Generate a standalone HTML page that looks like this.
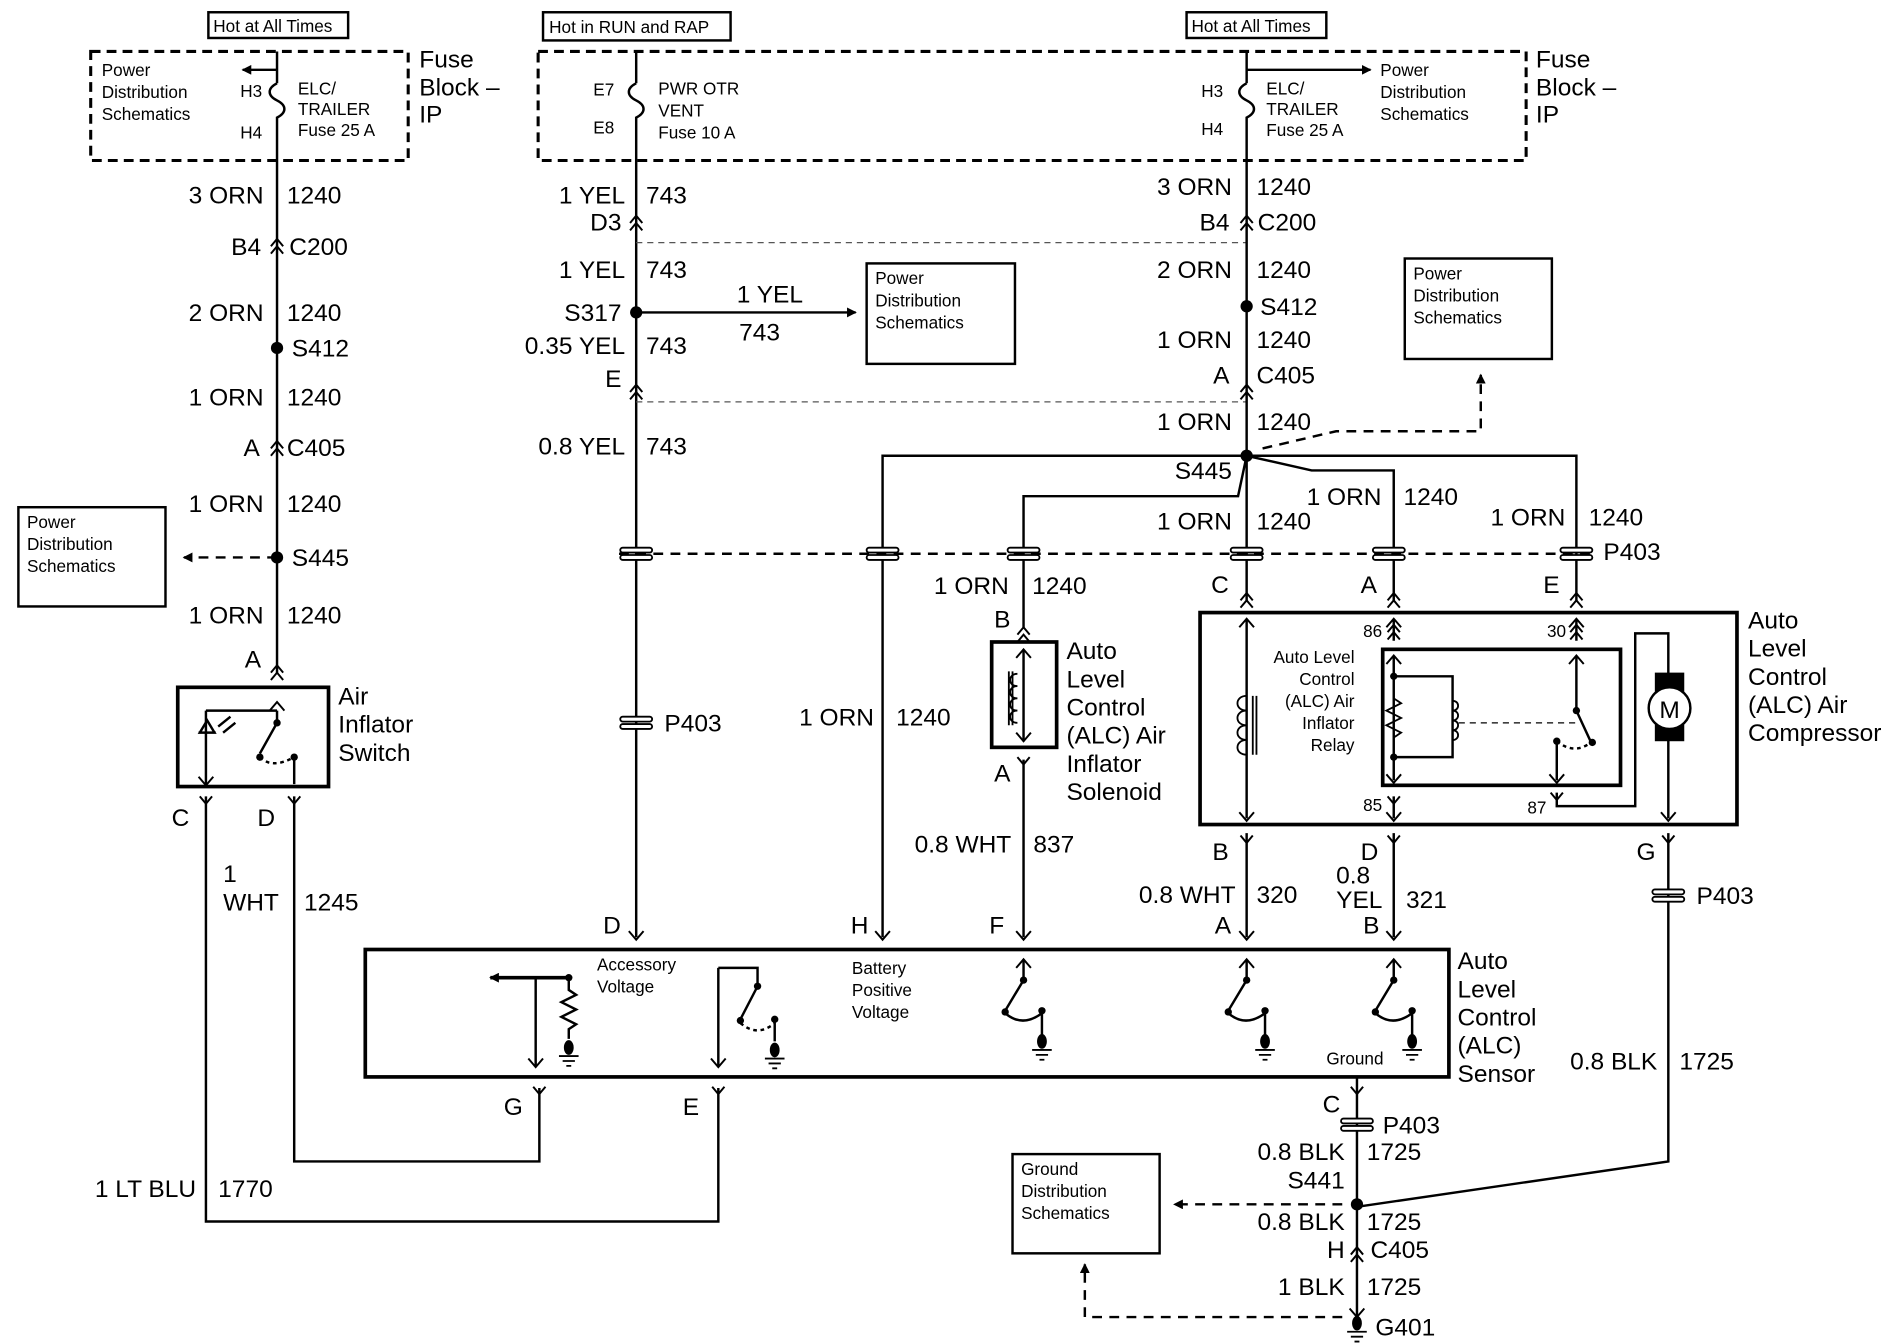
<!DOCTYPE html>
<html><head><meta charset="utf-8"><style>
html,body{margin:0;padding:0;background:#fff}
svg{display:block}
text{font-family:"Liberation Sans",sans-serif;fill:#000}
.b{font-size:20px}.s{font-size:14px}
.e{text-anchor:end}
</style></head><body>
<svg width="1900" height="1344" viewBox="0 0 1550 1097" preserveAspectRatio="none" xmlns="http://www.w3.org/2000/svg">
<defs>
<marker id="ah" markerWidth="8" markerHeight="8" refX="7" refY="4" orient="auto" markerUnits="userSpaceOnUse"><path d="M0,0 L8,4 L0,8 z" fill="#000"/></marker>
<g id="cn"><path d="M-5,6 L0,0 L5,6 M-5,12 L0,6 L5,12" fill="none" stroke="#000" stroke-width="1.6"/></g>
<g id="cl"><rect x="-13" y="-5" width="26" height="4" rx="2" fill="#fff" stroke="#000" stroke-width="1.5"/><rect x="-13" y="1" width="26" height="4" rx="2" fill="#fff" stroke="#000" stroke-width="1.5"/></g>
<g id="gnd"><ellipse cx="0" cy="0" rx="4" ry="6" fill="#000"/><path d="M-8,7 H8 M-5,11 H5 M-2,15 H2" stroke="#000" stroke-width="1.5"/></g>
</defs>
<g fill="none" stroke="#000" stroke-width="2">
<rect x="170" y="10" width="114" height="21"/>
<rect x="443" y="10" width="153" height="23"/>
<rect x="968" y="10" width="114" height="21"/>
<rect x="74" y="42" width="259" height="89" stroke-dasharray="8,5" stroke-width="2.5"/>
<rect x="439" y="42" width="806" height="89" stroke-dasharray="8,5" stroke-width="2.5"/>
<rect x="15" y="414" width="120" height="81"/>
<rect x="707" y="215" width="121" height="82"/>
<rect x="1146" y="211" width="120" height="82"/>
<rect x="826" y="942" width="120" height="81"/>
<rect x="145" y="561" width="123" height="81" stroke-width="3"/>
<rect x="809" y="524" width="53" height="86" stroke-width="3"/>
<rect x="979" y="500" width="438" height="173" stroke-width="3"/>
<rect x="1128" y="530" width="194" height="111" stroke-width="3"/>
<rect x="298" y="775" width="884" height="104" stroke-width="3"/>
</g>
<g stroke="#000" stroke-width="2" fill="none">
<path d="M226,42 V68 M226,100 V550"/>
<path d="M226,68 c-8,4 -8,10 0,14 c8,4 8,10 0,14 V100"/>
<path d="M226,57 H198" marker-end="url(#ah)"/>
<path d="M226,455 H150" stroke-dasharray="8,6" marker-end="url(#ah)"/>
<path d="M168,650 V997 H586 V888"/>
<path d="M240,650 V948 H440 V888"/>
<path d="M226,580 V590 L212,615 M168,580 H226 M168,580 V640 M240,618 V640" />
<path d="M212,618 q10,10 28,0" stroke-dasharray="3,3"/>
<path d="M162,598 H176 M169,588 L163,598 L175,598 z"/>
<path d="M178,593 l10,-8 M182,598 l10,-8"/>
<path d="M519,42 V68 M519,100 V765"/>
<path d="M519,68 c-8,4 -8,10 0,14 c8,4 8,10 0,14 V100"/>
<path d="M519,255 H698" marker-end="url(#ah)"/>
<path d="M519,198 H1017 M519,328 H1017" stroke-width="1" stroke-dasharray="5,4" stroke="#555"/>
<path d="M505,452 H1300" stroke-dasharray="8,6"/>
<path d="M1017,42 V68 M1017,100 V490"/>
<path d="M1017,68 c-8,4 -8,10 0,14 c8,4 8,10 0,14 V100"/>
<path d="M1017,57 H1118" marker-end="url(#ah)"/>
<path d="M1030,366 L1090,352 H1208 V306" stroke-dasharray="8,6" marker-end="url(#ah)"/>
<path d="M1017,372 H720 V765"/>
<path d="M1017,372 L1010,405 H835 V512"/>
<path d="M1017,372 L1070,384 H1137 V490"/>
<path d="M1017,372 H1286 V490"/>
<path d="M835,620 V765"/>
<path d="M1017,505 V668"/>
<path d="M1017,568 c-10,0 -10,12 0,12 c-10,0 -10,12 0,12 c-10,0 -10,12 0,12 c-10,0 -10,12 0,12 M1022,568 V616 M1025,568 V616" stroke-width="1.5"/>
<path d="M1137,505 V523 M1137,535 V637 M1137,552 H1185 V618 H1137"/>
<path d="M1137,570 l6,4 l-12,6 l12,6 l-12,6 l12,6 l-6,4" stroke-width="1.5"/>
<path d="M1185,572 c6,0 6,8 0,8 c6,0 6,8 0,8 c6,0 6,8 0,8 c6,0 6,8 0,8" stroke-width="1.5"/>
<path d="M1190,590 H1285" stroke-dasharray="5,4" stroke-width="1"/>
<path d="M1286,505 V523 M1286,535 V580 L1298,606 M1270,605 V637"/>
<path d="M1270,605 q15,12 29,0" stroke-dasharray="3,3"/>
<path d="M1137,650 V668 M1270,647 V658 H1334 V517 H1361 V668"/>
<path d="M835,530 V605"/>
<path d="M830,550 c-8,0 -8,10 0,10 c-8,0 -8,10 0,10 c-8,0 -8,10 0,10 c-8,0 -8,10 0,10 M826,548 V592 M823,548 V592" stroke-width="1.5"/>
<path d="M1017,680 V765 M1137,680 V765 M1361,680 V948 L1107,985"/>
<path d="M1107,879 V1075"/>
<path d="M1095,983 H958" stroke-dasharray="8,6" marker-end="url(#ah)"/>
<path d="M1095,1075 H885 V1032" stroke-dasharray="8,6" marker-end="url(#ah)"/>
<path d="M464,798 H400" stroke-width="3" marker-end="url(#ah)"/>
<path d="M437,798 V870 M464,798 V808 l6,4 l-12,6 l12,6 l-12,6 l12,6 l-6,4 V848"/>
<path d="M586,790 V870 M586,790 H618 V805 L604,832 M632,832 V850"/>
<path d="M604,835 q14,12 28,0" stroke-dasharray="3,3"/>
<path d="M835,783 V800 L820,825 M850,825 V845 M820,827 q14,12 30,0"/>
<path d="M1017,783 V800 L1002,825 M1032,825 V845 M1002,827 q14,12 30,0"/>
<path d="M1137,783 V800 L1122,825 M1152,825 V845 M1122,827 q14,12 30,0"/>
</g>
<g fill="none" stroke="#000" stroke-width="1.6">
<path d="M513,760 L519,767 L525,760 M714,760 L720,767 L726,760 M829,760 L835,767 L841,760 M1011,760 L1017,767 L1023,760 M1131,760 L1137,767 L1143,760"/>
<path d="M1011,663 L1017,670 L1023,663 M1131,663 L1137,670 L1143,663 M1355,663 L1361,670 L1367,663 M431,864 L437,871 L443,864 M580,864 L586,871 L592,864"/>
<path d="M1011,512 L1017,505 L1023,512 M1131,512 L1137,505 L1143,512 M1280,512 L1286,505 L1292,512 M1131,542 L1137,535 L1143,542 M1280,542 L1286,535 L1292,542 M1131,632 L1137,639 L1143,632 M1264,632 L1270,639 L1276,632"/>
<path d="M220,580 L226,573 L232,580 M162,634 L168,641 L174,634 M829,537 L835,530 L841,537 M829,598 L835,605 L841,598"/>
<path d="M829,790 L835,783 L841,790 M1011,790 L1017,783 L1023,790 M1131,790 L1137,783 L1143,790 M1101,1068 L1107,1075 L1113,1068"/>
</g>
<use href="#cn" x="226" y="195"/><use href="#cn" x="226" y="360"/><use href="#cn" x="226" y="543"/>
<use href="#cn" x="519" y="176"/><use href="#cn" x="519" y="314"/>
<use href="#cn" x="1017" y="176"/><use href="#cn" x="1017" y="314"/>
<use href="#cn" x="1017" y="484"/><use href="#cn" x="1137" y="484"/><use href="#cn" x="1286" y="484"/>
<use href="#cn" x="835" y="512"/><use href="#cn" x="1137" y="510"/><use href="#cn" x="1286" y="510"/>
<use href="#cn" x="1107" y="1018"/>
<g fill="none" stroke="#000" stroke-width="1.6">
<path d="M163,650 L168,656 L173,650 M235,650 L240,656 L245,650 M1012,682 L1017,688 L1022,682 M1132,682 L1137,688 L1142,682 M1356,682 L1361,688 L1366,682 M435,887 L440,893 L445,887 M581,887 L586,893 L591,887 M1102,887 L1107,893 L1112,887 M830,618 L835,624 L840,618 M1132,650 L1137,656 L1142,650 M1265,647 L1270,653 L1275,647"/>
</g>
<use href="#cl" x="519" y="452"/><use href="#cl" x="720" y="452"/><use href="#cl" x="835" y="452"/><use href="#cl" x="1017" y="452"/><use href="#cl" x="1133" y="452"/><use href="#cl" x="1286" y="452"/>
<use href="#cl" x="519" y="590"/><use href="#cl" x="1361" y="731"/><use href="#cl" x="1107" y="918"/>
<g fill="#000">
<circle cx="226" cy="284" r="5"/><circle cx="226" cy="455" r="5"/><circle cx="519" cy="255" r="5"/>
<circle cx="1017" cy="250" r="5"/><circle cx="1017" cy="372" r="5"/><circle cx="1107" cy="983" r="5"/>
<circle cx="1137" cy="552" r="3"/><circle cx="1137" cy="618" r="3"/><circle cx="1286" cy="580" r="3"/><circle cx="1299" cy="606" r="3"/><circle cx="1270" cy="605" r="3"/>
<circle cx="226" cy="590" r="3"/><circle cx="212" cy="618" r="3"/><circle cx="240" cy="618" r="3"/>
<circle cx="464" cy="798" r="3"/><circle cx="618" cy="805" r="3"/><circle cx="604" cy="833" r="3"/><circle cx="632" cy="832" r="3"/>
<circle cx="835" cy="800" r="3"/><circle cx="820" cy="826" r="3"/><circle cx="850" cy="825" r="3"/>
<circle cx="1017" cy="800" r="3"/><circle cx="1002" cy="826" r="3"/><circle cx="1032" cy="825" r="3"/>
<circle cx="1137" cy="800" r="3"/><circle cx="1122" cy="826" r="3"/><circle cx="1152" cy="825" r="3"/>
</g>
<use href="#gnd" x="464" y="855"/><use href="#gnd" x="632" y="857"/><use href="#gnd" x="850" y="850"/><use href="#gnd" x="1032" y="850"/><use href="#gnd" x="1152" y="850"/><use href="#gnd" x="1107" y="1080"/>
<rect x="1350" y="549" width="24" height="56" fill="#000"/>
<circle cx="1362" cy="578" r="17" fill="#fff" stroke="#000" stroke-width="2"/>
<text x="1362" y="586" class="b" text-anchor="middle">M</text>
<g class="s">
<text x="174" y="26">Hot at All Times</text>
<text x="448" y="27">Hot in RUN and RAP</text>
<text x="972" y="26">Hot at All Times</text>
<text x="83" y="62">Power</text><text x="83" y="80">Distribution</text><text x="83" y="98">Schematics</text>
<text x="196" y="79">H3</text><text x="196" y="113">H4</text>
<text x="243" y="77">ELC/</text><text x="243" y="94">TRAILER</text><text x="243" y="111">Fuse 25 A</text>
<text x="484" y="78">E7</text><text x="484" y="109">E8</text>
<text x="537" y="77">PWR OTR</text><text x="537" y="95">VENT</text><text x="537" y="113">Fuse 10 A</text>
<text x="980" y="79">H3</text><text x="980" y="110">H4</text>
<text x="1033" y="77">ELC/</text><text x="1033" y="94">TRAILER</text><text x="1033" y="111">Fuse 25 A</text>
<text x="1126" y="62">Power</text><text x="1126" y="80">Distribution</text><text x="1126" y="98">Schematics</text>
<text x="714" y="232">Power</text><text x="714" y="250">Distribution</text><text x="714" y="268">Schematics</text>
<text x="1153" y="228">Power</text><text x="1153" y="246">Distribution</text><text x="1153" y="264">Schematics</text>
<text x="22" y="431">Power</text><text x="22" y="449">Distribution</text><text x="22" y="467">Schematics</text>
<text x="833" y="959">Ground</text><text x="833" y="977">Distribution</text><text x="833" y="995">Schematics</text>
<g class="e"><text x="1105" y="541">Auto Level</text><text x="1105" y="559">Control</text><text x="1105" y="577">(ALC) Air</text><text x="1105" y="595">Inflator</text><text x="1105" y="613">Relay</text></g>
<text x="1112" y="520">86</text><text x="1262" y="520">30</text><text x="1112" y="662">85</text><text x="1246" y="664">87</text>
<text x="487" y="792">Accessory</text><text x="487" y="810">Voltage</text>
<text x="695" y="795">Battery</text><text x="695" y="813">Positive</text><text x="695" y="831">Voltage</text>
<text x="1082" y="869">Ground</text>
</g>
<g class="b">
<text x="342" y="55">Fuse</text><text x="342" y="78">Block –</text><text x="342" y="100">IP</text>
<text x="1253" y="55">Fuse</text><text x="1253" y="78">Block –</text><text x="1253" y="100">IP</text>
<g class="e">
<text x="215" y="166">3 ORN</text><text x="213" y="208">B4</text><text x="215" y="262">2 ORN</text><text x="215" y="331">1 ORN</text><text x="212" y="372">A</text><text x="215" y="418">1 ORN</text><text x="215" y="509">1 ORN</text><text x="213" y="545">A</text>
<text x="510" y="166">1 YEL</text><text x="507" y="188">D3</text><text x="510" y="227">1 YEL</text><text x="507" y="262">S317</text><text x="510" y="289">0.35 YEL</text><text x="507" y="316">E</text><text x="510" y="371">0.8 YEL</text>
<text x="1005" y="159">3 ORN</text><text x="1003" y="188">B4</text><text x="1005" y="227">2 ORN</text><text x="1005" y="284">1 ORN</text><text x="1003" y="313">A</text><text x="1005" y="351">1 ORN</text><text x="1005" y="391">S445</text><text x="1005" y="432">1 ORN</text>
<text x="1127" y="412">1 ORN</text><text x="1277" y="429">1 ORN</text><text x="823" y="485">1 ORN</text><text x="713" y="592">1 ORN</text>
<text x="825" y="696">0.8 WHT</text><text x="1008" y="737">0.8 WHT</text>
<text x="1352" y="873">0.8 BLK</text><text x="1097" y="947">0.8 BLK</text><text x="1097" y="970">S441</text><text x="1097" y="1004">0.8 BLK</text><text x="1097" y="1027">H</text><text x="1097" y="1057">1 BLK</text>
<text x="160" y="977">1 LT BLU</text>
</g>
<text x="234" y="166">1240</text><text x="236" y="208">C200</text><text x="234" y="262">1240</text><text x="238" y="291">S412</text><text x="234" y="331">1240</text><text x="234" y="372">C405</text><text x="234" y="418">1240</text><text x="238" y="462">S445</text><text x="234" y="509">1240</text>
<text x="527" y="166">743</text><text x="527" y="227">743</text><text x="527" y="289">743</text><text x="527" y="371">743</text>
<text x="601" y="247">1 YEL</text><text x="603" y="278">743</text>
<text x="1025" y="159">1240</text><text x="1026" y="188">C200</text><text x="1025" y="227">1240</text><text x="1028" y="257">S412</text><text x="1025" y="284">1240</text><text x="1025" y="313">C405</text><text x="1025" y="351">1240</text><text x="1025" y="432">1240</text>
<text x="1145" y="412">1240</text><text x="1296" y="429">1240</text><text x="1308" y="457">P403</text><text x="842" y="485">1240</text><text x="731" y="592">1240</text><text x="542" y="597">P403</text>
<text x="988" y="484">C</text><text x="1110" y="484">A</text><text x="1259" y="484">E</text>
<text x="811" y="512">B</text><text x="811" y="638">A</text>
<text x="870" y="538">Auto</text><text x="870" y="561">Level</text><text x="870" y="584">Control</text><text x="870" y="607">(ALC) Air</text><text x="870" y="630">Inflator</text><text x="870" y="653">Solenoid</text>
<text x="1426" y="513">Auto</text><text x="1426" y="536">Level</text><text x="1426" y="559">Control</text><text x="1426" y="582">(ALC) Air</text><text x="1426" y="605">Compressor</text>
<text x="276" y="575">Air</text><text x="276" y="598">Inflator</text><text x="276" y="621">Switch</text>
<text x="140" y="674">C</text><text x="210" y="674">D</text>
<text x="182" y="720">1</text><text x="182" y="743">WHT</text><text x="248" y="743">1245</text>
<text x="178" y="977">1770</text>
<text x="843" y="696">837</text>
<text x="989" y="702">B</text><text x="1110" y="702">D</text><text x="1335" y="702">G</text>
<text x="1025" y="737">320</text><text x="1090" y="721">0.8</text><text x="1090" y="741">YEL</text><text x="1147" y="741">321</text>
<text x="1384" y="738">P403</text>
<text x="492" y="762">D</text><text x="694" y="762">H</text><text x="807" y="762">F</text><text x="991" y="762">A</text><text x="1112" y="762">B</text>
<text x="1189" y="791">Auto</text><text x="1189" y="814">Level</text><text x="1189" y="837">Control</text><text x="1189" y="860">(ALC)</text><text x="1189" y="883">Sensor</text>
<text x="1370" y="873">1725</text>
<text x="411" y="910">G</text><text x="557" y="910">E</text><text x="1079" y="908">C</text>
<text x="1128" y="925">P403</text><text x="1115" y="947">1725</text><text x="1115" y="1004">1725</text><text x="1118" y="1027">C405</text><text x="1115" y="1057">1725</text><text x="1122" y="1090">G401</text>
</g>
</svg>
</body></html>
